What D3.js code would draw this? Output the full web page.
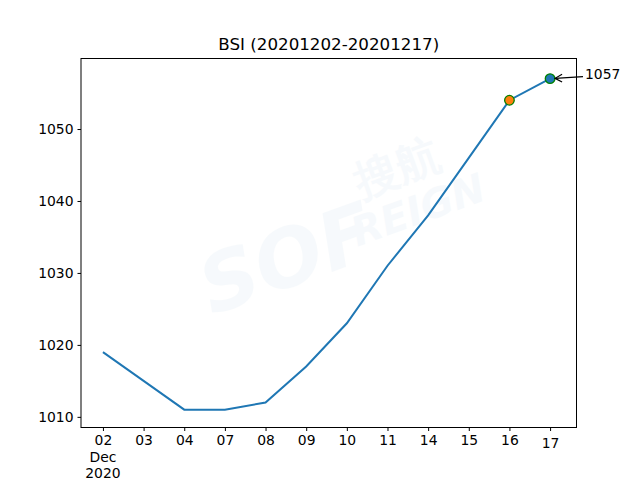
<!DOCTYPE html>
<html><head><meta charset="utf-8">
<script src="https://cdn.jsdelivr.net/npm/d3@7"></script>
<style>body{margin:0;background:#fff}svg{font-family:"DejaVu Sans",sans-serif}</style>
</head><body>
<script>
const categories = ["02","03","04","07","08","09","10","11","14","15","16","17"];
const values = [1019,1015,1011,1011,1012,1017,1023,1031,1038,1046,1054,1057];
const yTicks = [1010,1020,1030,1040,1050];
const title = "BSI (20201202-20201217)";
const W=640,H=480, L=81,R=576.5,T=58.5,B=427.5;
const FS=13.9;
const svg=d3.select("body").append("svg").attr("width",W).attr("height",H);
const n=categories.length;
const x=d3.scaleLinear().domain([-0.54,n-1+0.65]).range([L,R]);
const y=d3.scaleLinear().domain([1008.52,1059.8]).range([B,T]);

// watermark
const wm=svg.append("g").attr("transform","translate(330,230) rotate(-20)").attr("fill","#1f77b4").attr("opacity",0.035).attr("font-weight","bold");
wm.append("text").attr("x",-140).attr("y",40).attr("font-size",80).attr("font-style","italic").text("SOF");
wm.append("text").attr("x",40).attr("y",-20).attr("font-size",44).text("搜航");
wm.append("text").attr("x",20).attr("y",25).attr("font-size",40).attr("font-style","italic").text("REIGN");

const line=d3.line().x((d,i)=>x(i)).y(d=>y(d));
svg.append("path").datum(values).attr("d",line).attr("fill","none").attr("stroke","#1f77b4").attr("stroke-width",2);

// markers
svg.append("circle").attr("cx",x(n-2)).attr("cy",y(values[n-2])).attr("r",4.8).attr("fill","#ff7f0e").attr("stroke","green").attr("stroke-width",1.3);
svg.append("circle").attr("cx",x(n-1)).attr("cy",y(values[n-1])).attr("r",4.8).attr("fill","#1f77b4").attr("stroke","green").attr("stroke-width",1.3);

// annotation
const ax=x(n-1), ay=y(values[n-1]);
svg.append("line").attr("x1",583).attr("y1",ay-2).attr("x2",ax+5).attr("y2",ay-0.3).attr("stroke","#000").attr("stroke-width",1.2);
svg.append("path").attr("d",`M${ax+12},${ay-4.3} L${ax+5},${ay-0.3} L${ax+12},${ay+3.3}`).attr("fill","none").attr("stroke","#000").attr("stroke-width",1.2);
svg.append("text").attr("x",585).attr("y",ay).attr("dy","0.05em").attr("font-size",FS).text(values[n-1]);

// axes
const xa=svg.append("g").attr("transform",`translate(0,${B})`).call(d3.axisBottom(x).tickValues(d3.range(n)).tickFormat(i=>categories[i]).tickSize(3.5).tickPadding(4));
const ya=svg.append("g").attr("transform",`translate(${L},0)`).call(d3.axisLeft(y).tickValues(yTicks).tickFormat(d3.format("d")).tickSize(3.5).tickPadding(4));
[xa,ya].forEach(g=>{g.select(".domain").remove();g.selectAll("text").attr("font-size",FS).attr("font-family","DejaVu Sans").attr("fill","#000");g.selectAll("line").attr("stroke","#000").attr("stroke-width",1);});
xa.selectAll(".tick text").filter((d,i)=>i===n-1).attr("dy","0.93em");
svg.append("text").attr("x",x(0)).attr("y",462).attr("text-anchor","middle").attr("font-size",FS).text("Dec");
svg.append("text").attr("x",x(0)).attr("y",478).attr("text-anchor","middle").attr("font-size",FS).text("2020");

svg.append("rect").attr("x",L).attr("y",T).attr("width",R-L).attr("height",B-T).attr("fill","none").attr("stroke","#000").attr("stroke-width",1);
svg.append("text").attr("x",(L+R)/2).attr("y",T-9).attr("text-anchor","middle").attr("font-size",16.7).text(title);
</script>
</body></html>
